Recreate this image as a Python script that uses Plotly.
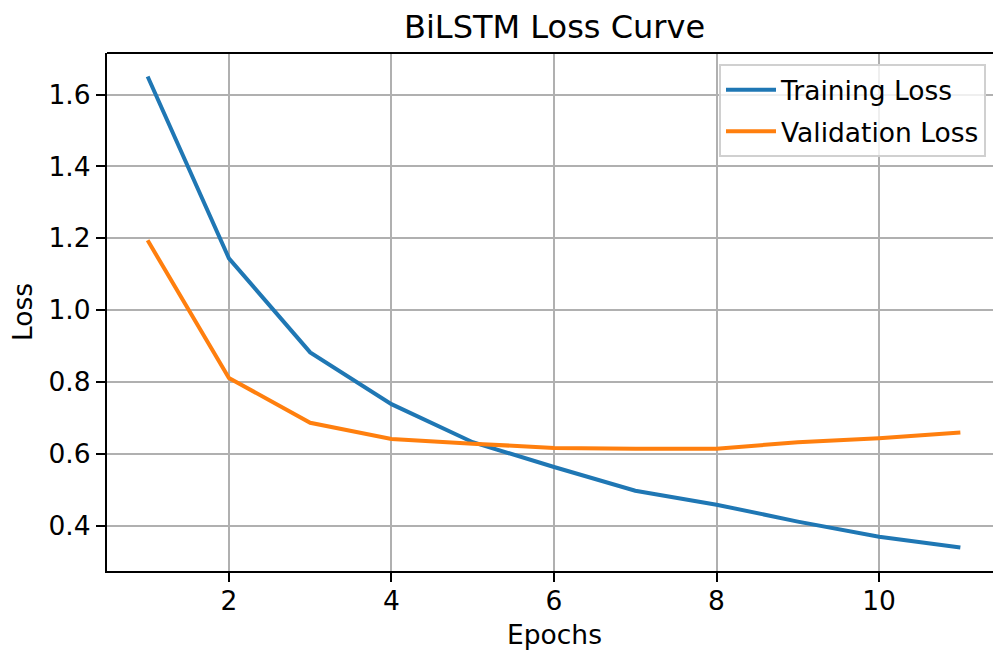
import plotly.graph_objects as go

epochs = [1, 2, 3, 4, 5, 6, 7, 8, 9, 10, 11]
train_loss = [1.650, 1.144, 0.882, 0.738, 0.632, 0.563, 0.497, 0.458, 0.411, 0.369, 0.339]
val_loss = [1.194, 0.811, 0.686, 0.641, 0.628, 0.616, 0.614, 0.614, 0.632, 0.643, 0.659]
y_ticks = [0.4, 0.6, 0.8, 1.0, 1.2, 1.4, 1.6]
x_ticks = [2, 4, 6, 8, 10]

FONT = "DejaVu Sans"
W, H = 993, 651
ML, MT, MB = 107, 53, 80
full_right_px = 1001  # plot area extends beyond the visible window
FS = 26.5
TFS = 32
LW = 2.1

# matplotlib-like 5% margins
xmin, xmax = min(epochs), max(epochs)
xspan = xmax - xmin
x0, x1 = xmin - 0.05 * xspan, xmax + 0.05 * xspan
px_per_unit = (full_right_px - ML) / (x1 - x0)
x1_vis = x1 - (full_right_px - W) / px_per_unit

allv = train_loss + val_loss
ymin, ymax = min(allv), max(allv)
yspan = ymax - ymin
y0, y1 = ymin - 0.05 * yspan, ymax + 0.05 * yspan

fig = go.Figure()
fig.add_trace(go.Scatter(x=epochs, y=train_loss, mode="lines", name="Training Loss",
                         line=dict(color="#1f77b4", width=4), legendgroup="a"))
fig.add_trace(go.Scatter(x=epochs, y=val_loss, mode="lines", name="Validation Loss",
                         line=dict(color="#ff7f0e", width=4), legendgroup="b"))

plot_w = W - ML
plot_h = H - MT - MB
center_paper = ((ML + full_right_px) / 2 - ML) / plot_w

fig.update_layout(
    width=W, height=H,
    margin=dict(l=ML, r=0, t=MT, b=MB, pad=0),
    paper_bgcolor="white", plot_bgcolor="white",
    font=dict(family=FONT, size=FS, color="black"),
    showlegend=True,
    legend=dict(
        x=(986 - ML) / plot_w, y=1 - (64 - MT) / plot_h,
        xanchor="right", yanchor="top",
        bordercolor="#d0d0d0", borderwidth=2,
        bgcolor="rgba(255,255,255,0.8)",
        font=dict(family=FONT, size=FS, color="black"),
        traceorder="grouped", tracegroupgap=4,
        itemwidth=50,
    ),
    xaxis=dict(
        range=[x0, x1_vis], tickvals=x_ticks, ticktext=[str(v) for v in x_ticks],
        showgrid=True, gridcolor="#b0b0b0", gridwidth=LW,
        showline=True, linecolor="black", linewidth=LW,
        ticks="outside", ticklen=9, tickwidth=LW, tickcolor="black",
        ticklabelstandoff=-4,
        zeroline=False, tickfont=dict(family=FONT, size=FS, color="black"),
    ),
    yaxis=dict(
        range=[y0, y1], tickvals=y_ticks, ticktext=[f"{v:.1f}" for v in y_ticks],
        showgrid=True, gridcolor="#b0b0b0", gridwidth=LW,
        showline=True, linecolor="black", linewidth=LW,
        ticks="outside", ticklen=9, tickwidth=LW, tickcolor="black",
        zeroline=False, tickfont=dict(family=FONT, size=FS, color="black"),
    ),
    shapes=[dict(type="line", xref="paper", yref="paper", x0=0, x1=1, y0=1, y1=1,
                 line=dict(color="black", width=LW))],
    annotations=[
        dict(text="BiLSTM Loss Curve", xref="paper", yref="paper",
             x=center_paper, y=1 + (MT - 27) / plot_h, xanchor="center", yanchor="middle",
             showarrow=False, font=dict(family=FONT, size=TFS, color="black")),
        dict(text="Epochs", xref="paper", yref="paper",
             x=center_paper, y=-(634 - (H - MB)) / plot_h, xanchor="center", yanchor="middle",
             showarrow=False, font=dict(family=FONT, size=FS, color="black")),
        dict(text="Loss", xref="paper", yref="paper",
             x=-(ML - 22) / plot_w, y=0.5, xanchor="center", yanchor="middle",
             textangle=-90, showarrow=False, font=dict(family=FONT, size=FS, color="black")),
    ],
)

fig.write_html("out.html")
